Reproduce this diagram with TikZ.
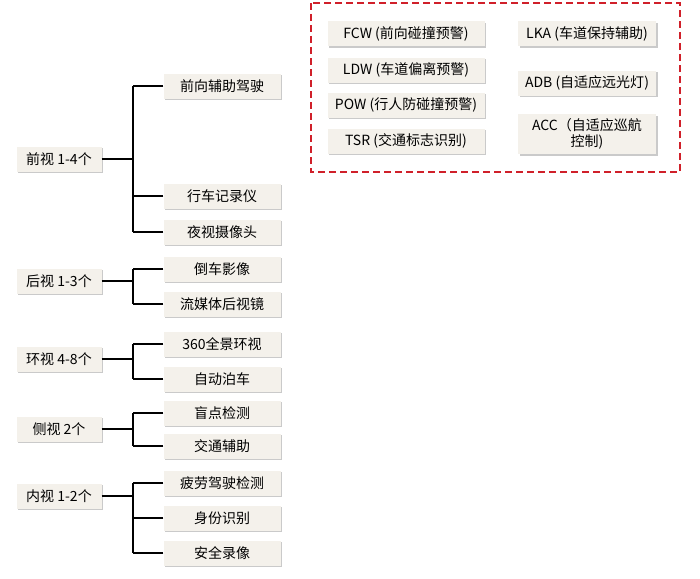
\documentclass[tikz,border=0pt]{standalone}
\usepackage{fontspec}
\setmainfont{Noto Sans CJK SC}
\usetikzlibrary{shadows}
\definecolor{boxfill}{HTML}{F4F1EB}
\definecolor{dred}{HTML}{D0202A}
\begin{document}
\begin{tikzpicture}[x=1pt,y=-1pt,
  box/.style={fill=boxfill,draw=none,minimum height=25pt,align=center,font=\fontsize{14}{16}\selectfont,inner xsep=2pt,
    drop shadow={shadow xshift=1.5pt,shadow yshift=-1.5pt,fill=black!35,opacity=0.6}},
  par/.style={box,minimum width=85pt},
  ch/.style={box,minimum width=117pt},
  fe/.style={box,minimum width=157pt},
  fr/.style={box,minimum width=138pt},
  ln/.style={line width=1.2pt}]
\useasboundingbox (0,0) rectangle (700,578);
\draw[dred,line width=1.5pt,dash pattern=on 7pt off 4pt] (311,3) rectangle (680,172);
\node[fe] (fcw) at (406,34) {FCW (前向碰撞预警)};
\node[fe] (ldw) at (406,70) {LDW (车道偏离预警)};
\node[fe] (pow) at (406,105) {POW (行人防碰撞预警)};
\node[fe] (tsr) at (406,141) {TSR (交通标志识别)};
\node[fr] (lka) at (587,34) {LKA (车道保持辅助)};
\node[fr] (adb) at (587,83) {ADB (自适应远光灯)};
\node[fr,minimum height=40pt] (acc) at (587,134) {ACC（自适应巡航\\控制)};
\node[par] (p1) at (59,159) {前视 1-4个};
\node[par] (p2) at (59,281) {后视 1-3个};
\node[par] (p3) at (59,359) {环视 4-8个};
\node[par] (p4) at (59,429) {侧视 2个};
\node[par] (p5) at (59,496) {内视 1-2个};
\node[ch] (c11) at (222,86) {前向辅助驾驶};
\node[ch] (c12) at (222,196) {行车记录仪};
\node[ch] (c13) at (222,232) {夜视摄像头};
\node[ch] (c21) at (222,269) {倒车影像};
\node[ch] (c22) at (222,304) {流媒体后视镜};
\node[ch] (c31) at (222,344) {360全景环视};
\node[ch] (c32) at (222,379) {自动泊车};
\node[ch] (c41) at (222,413) {盲点检测};
\node[ch] (c42) at (222,446) {交通辅助};
\node[ch] (c51) at (222,483) {疲劳驾驶检测};
\node[ch] (c52) at (222,518) {身份识别};
\node[ch] (c53) at (222,553) {安全录像};
\foreach \p/\cs in {p1/{c11,c12,c13},p2/{c21,c22},p3/{c31,c32},p4/{c41,c42},p5/{c51,c52,c53}}{
  \draw[ln] (\p.east) -- (133,0 |- \p.east);
  \foreach \c in \cs { \draw[ln] (\c.west) -- (133,0 |- \c.west); }
}
\draw[ln] (133,86) -- (133,232);
\draw[ln] (133,269) -- (133,304);
\draw[ln] (133,344) -- (133,379);
\draw[ln] (133,413) -- (133,446);
\draw[ln] (133,483) -- (133,553);
\end{tikzpicture}
\end{document}
